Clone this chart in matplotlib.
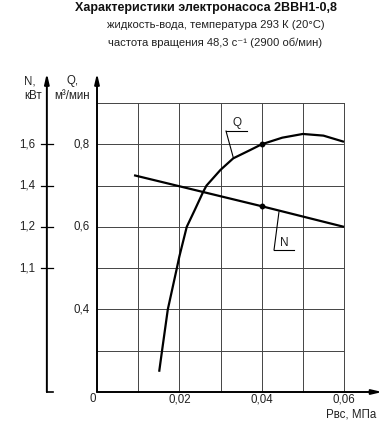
import matplotlib
matplotlib.use("Agg")
import matplotlib.pyplot as plt
import numpy as np

plt.rcParams['font.family'] = ['Liberation Sans', 'DejaVu Sans']

# ---- data ----
p_q = [0.0151, 0.0158, 0.0172, 0.0194, 0.0200, 0.0210, 0.0218, 0.0238, 0.0258,
       0.0266, 0.0300, 0.0331, 0.0372, 0.0400, 0.0450, 0.0500, 0.0550, 0.0600]
q_vals = [0.249, 0.300, 0.400, 0.500, 0.528, 0.568, 0.600, 0.642, 0.685,
          0.700, 0.738, 0.766, 0.786, 0.800, 0.816, 0.825, 0.821, 0.806]
p_n = [0.009, 0.040, 0.060]
n_vals = [1.45, 1.30, 1.20]
marker_p = [0.040]
marker_q = [0.800]
marker_n = [1.30]

x_ticks = [0.02, 0.04, 0.06]
x_tick_labels = ["0,02", "0,04", "0,06"]
q_ticks = [0.4, 0.6, 0.8]
q_tick_labels = ["0,4", "0,6", "0,8"]
n_ticks = [1.1, 1.2, 1.4, 1.6]
n_tick_labels = ["1,1", "1,2", "1,4", "1,6"]
# N scale positions (in Q-axis units) as drawn on the chart
n_scale_n = [1.1, 1.2, 1.4, 1.6]
n_scale_q = [0.5, 0.6, 0.7, 0.8]

title = "Характеристики электронасоса 2ВВН1-0,8"
sub1 = "жидкость-вода, температура 293 К (20°С)"
sub2 = "частота вращения 48,3 с⁻¹ (2900 об/мин)"


def n_to_q(n):
    n = np.asarray(n, dtype=float)
    return np.interp(n, n_scale_n, n_scale_q)


W, H = 391, 429
fig = plt.figure(figsize=(W / 100, H / 100), dpi=100)
L, R, T, B = 97, 344, 103, 392
ax = fig.add_axes([L / W, 1 - B / H, (R - L) / W, (B - T) / H])
ax.set_xlim(0, 0.06)
ax.set_ylim(0.2, 0.9)
ax.axis('off')

grid_c = '#444444'
for xv in [0.01, 0.02, 0.03, 0.04, 0.05, 0.06]:
    ax.plot([xv, xv], [0.2, 0.9], color=grid_c, lw=0.7, clip_on=False, zorder=1)
for yv in [0.3, 0.4, 0.5, 0.6, 0.7, 0.8, 0.9]:
    ax.plot([0, 0.06], [yv, yv], color=grid_c, lw=0.7, clip_on=False, zorder=1)

# main axes with arrows
ytop = 0.972
xright = 0.0693
arrow = dict(arrowstyle='-|>,head_length=0.6,head_width=0.14',
             color='black', lw=1.4, shrinkA=0, shrinkB=0)
ax.annotate('', xy=(0, ytop), xytext=(0, 0.2), arrowprops=arrow, annotation_clip=False)
ax.annotate('', xy=(xright, 0.2), xytext=(0, 0.2), arrowprops=arrow, annotation_clip=False)
xn = -0.01218
ax.annotate('', xy=(xn, ytop), xytext=(xn, 0.2), arrowprops=arrow, annotation_clip=False)
ax.plot([xn, xn + 0.0016], [0.2, 0.2], color='black', lw=1.2, clip_on=False)

tc = '#222222'
fs = 8.3
for nv, lab in zip(n_ticks, n_tick_labels):
    yq = float(n_to_q([nv])[0])
    ax.plot([xn - 0.0015, xn + 0.0015], [yq, yq], color='black', lw=0.9, clip_on=False)
    ax.text(-0.01506, yq, lab, ha='right', va='center', fontsize=fs, color=tc)
for qv, lab in zip(q_ticks, q_tick_labels):
    ax.text(-0.00187, qv, lab, ha='right', va='center', fontsize=fs, color=tc)
for xv, lab in zip(x_ticks, x_tick_labels):
    ax.text(xv, 0.183, lab, ha='center', va='center', fontsize=fs, color=tc)
ax.text(-0.0011, 0.183, "0", ha='center', va='center', fontsize=fs, color=tc)
ax.text(0.0679, 0.145, "Рвс, МПа", ha='right', va='center', fontsize=fs, color=tc)

# axis labels
ax.text(-0.0163, 0.953, "N,", ha='center', va='center', fontsize=fs, color=tc)
ax.text(-0.0155, 0.918, "кВт", ha='center', va='center', fontsize=fs, color=tc)
ax.text(-0.0060, 0.953, "Q,", ha='center', va='center', fontsize=fs, color=tc)
ax.text(-0.0060, 0.918, "м³/мин", ha='center', va='center', fontsize=fs, color=tc)

# curves
ax.plot(p_q, q_vals, color='black', lw=1.6, clip_on=False, zorder=3,
        solid_capstyle='butt', solid_joinstyle='round')
ax.plot(p_n, n_to_q(n_vals), color='black', lw=1.6, clip_on=False, zorder=3,
        solid_capstyle='butt')
ax.plot(marker_p, marker_q, 'o', color='black', ms=3.2, zorder=4)
ax.plot(marker_p, n_to_q(marker_n), 'o', color='black', ms=3.2, zorder=4)

# curve labels with leaders
ax.text(0.0340, 0.8527, "Q", ha='center', va='center', fontsize=8.5, color=tc)
ax.plot([0.03134, 0.03644], [0.832, 0.832], color='black', lw=0.8, clip_on=False)
ax.plot([0.03134, 0.0331], [0.832, 0.768], color='black', lw=0.8, clip_on=False)
ax.text(0.0454, 0.561, "N", ha='center', va='center', fontsize=8.5, color=tc)
ax.plot([0.0430, 0.0479], [0.544, 0.544], color='black', lw=0.8, clip_on=False)
ax.plot([0.0430, 0.0442], [0.544, 0.636], color='black', lw=0.8, clip_on=False)

# titles
fig.text(206 / W, 1 - 7.5 / H, title, ha='center', va='center', fontsize=9.0,
         fontweight='bold', color='#111111')
fig.text(216 / W, 1 - 24.5 / H, sub1, ha='center', va='center', fontsize=8.1, color=tc)
fig.text(215 / W, 1 - 43 / H, sub2, ha='center', va='center', fontsize=8.1, color=tc)

fig.savefig("out.png", dpi=100)
